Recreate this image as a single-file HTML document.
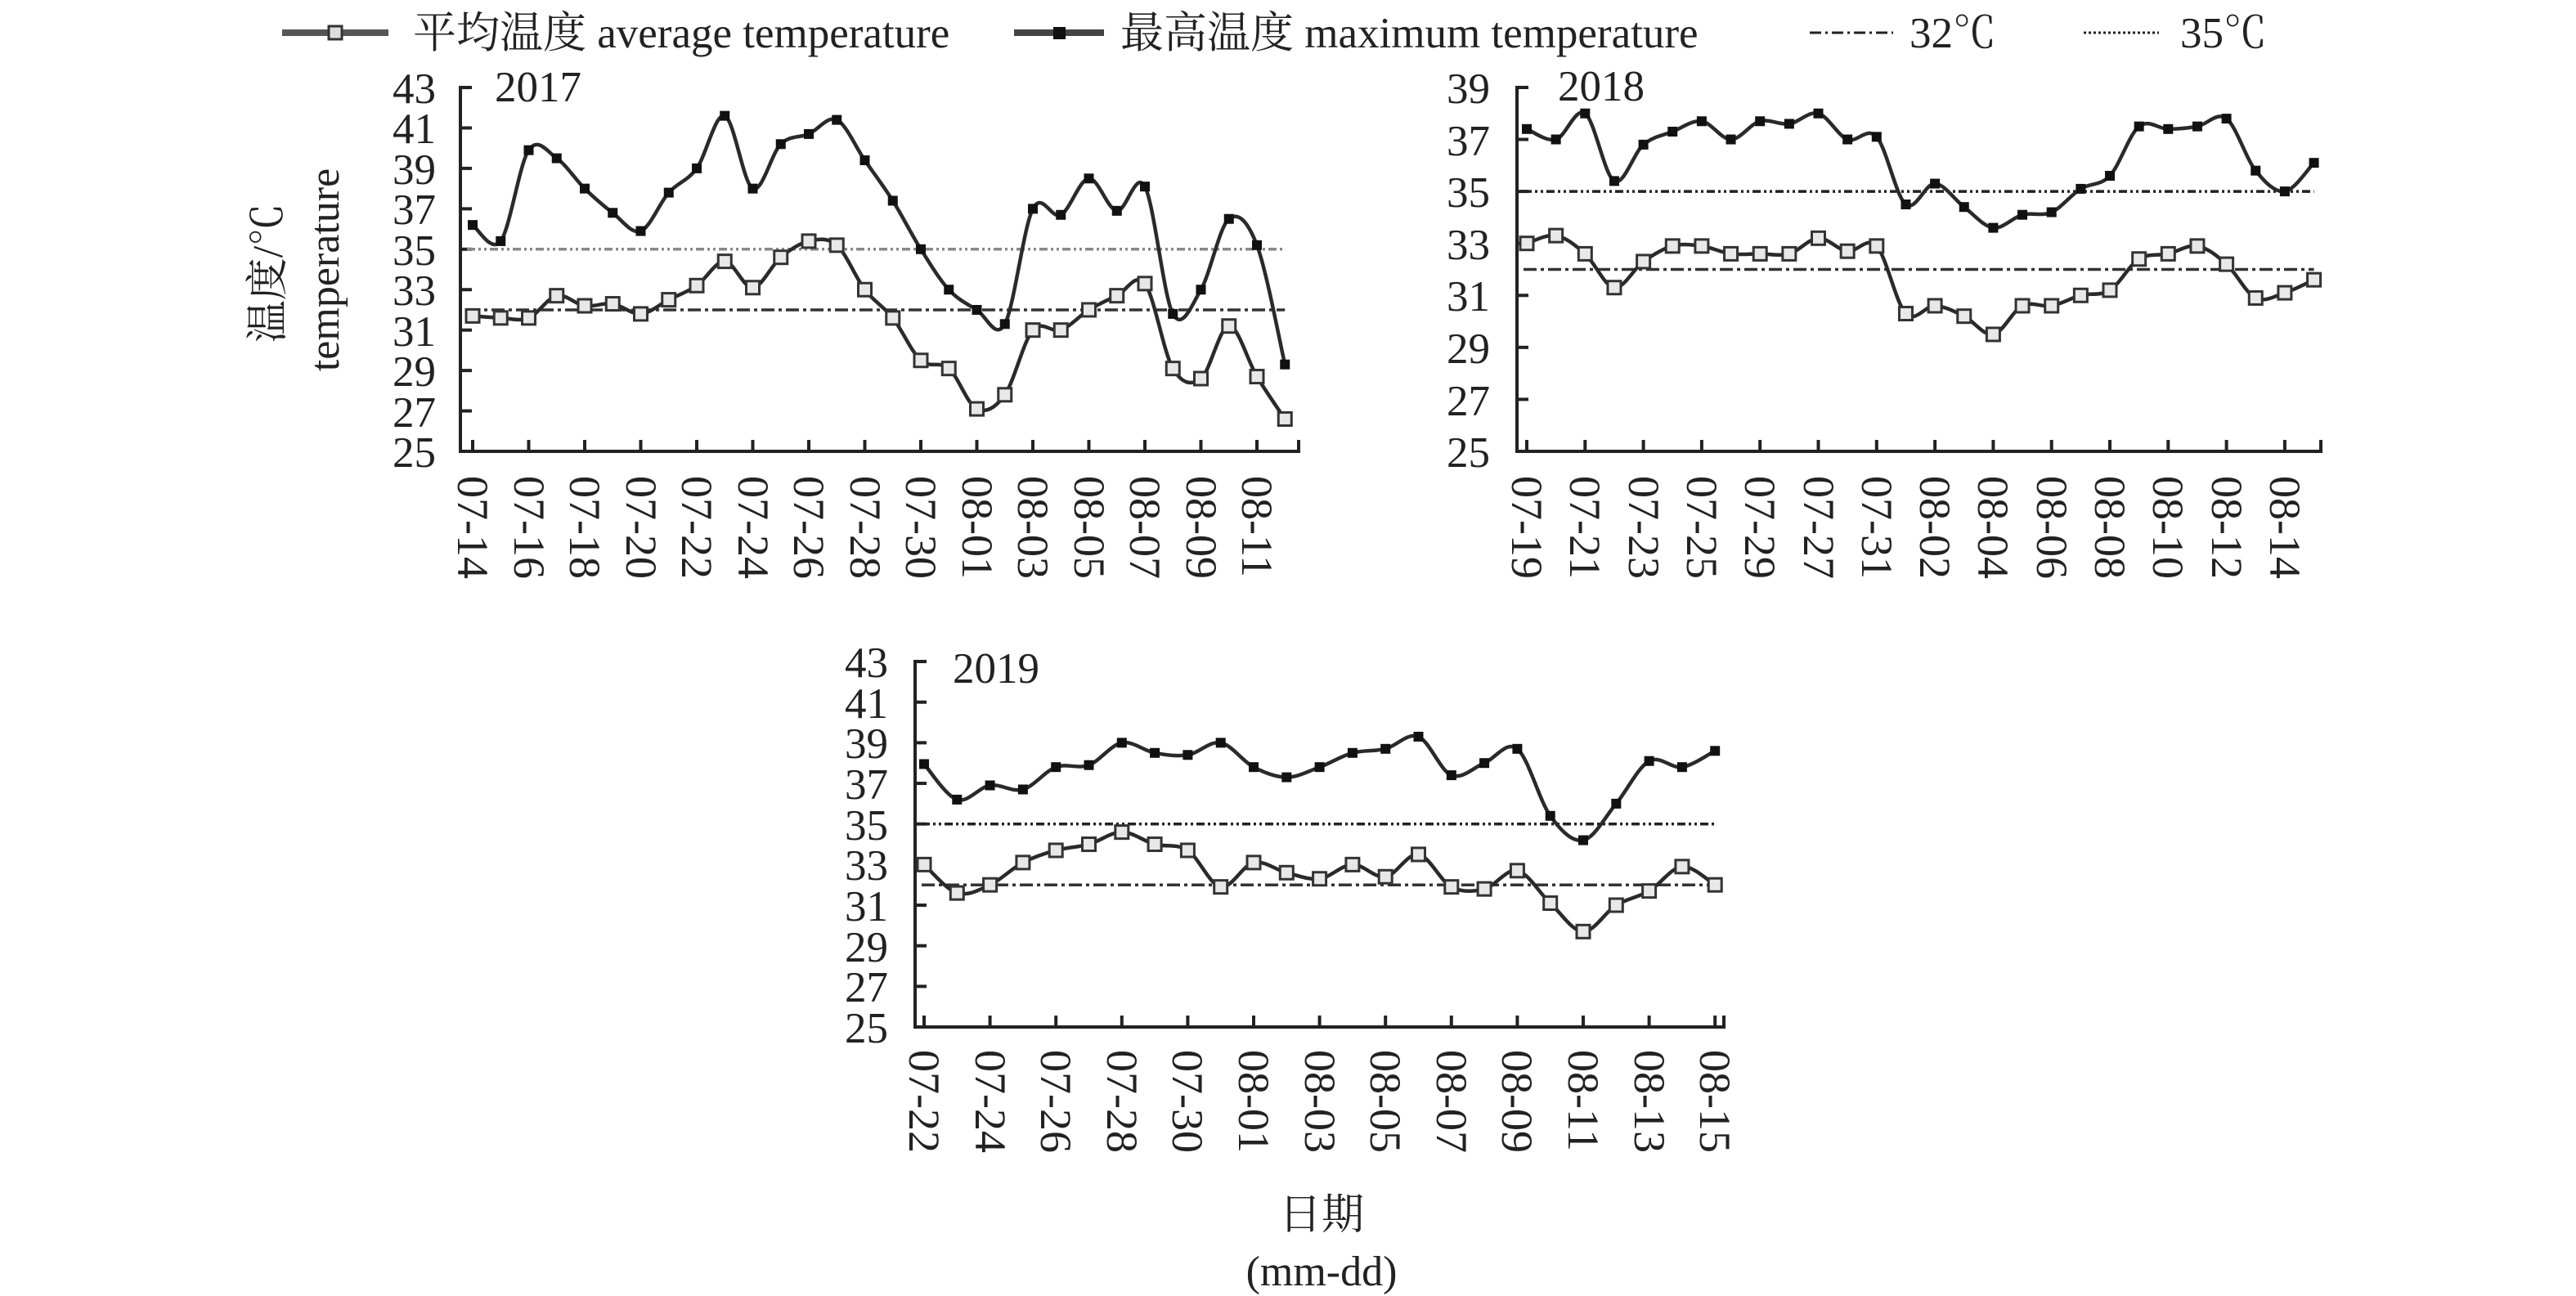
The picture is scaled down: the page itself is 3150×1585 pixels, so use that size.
<!DOCTYPE html>
<html><head><meta charset="utf-8"><style>
html,body{margin:0;padding:0;background:#fff}
svg{display:block}
text{font-family:"Liberation Serif","Noto Serif CJK SC",serif;fill:#222}
</style></head><body>
<svg id="s" width="3150" height="1585" viewBox="0 0 3150 1585" xmlns="http://www.w3.org/2000/svg">
<g stroke-width="8">
<line x1="345" y1="40" x2="475" y2="40" stroke="#555"/>
<rect x="402" y="32" width="16" height="16" fill="#ddd" stroke="#333" stroke-width="3"/>
<line x1="1240" y1="40" x2="1350" y2="40" stroke="#444"/>
<rect x="1288" y="33" width="15" height="15" fill="#111" stroke="none"/>
</g>
<line x1="2213" y1="40" x2="2315" y2="40" stroke="#222" stroke-width="3" stroke-dasharray="14,5,3,5"/>
<line x1="2548" y1="40" x2="2640" y2="40" stroke="#222" stroke-width="3" stroke-dasharray="3,3"/>
<g font-size="53">
<text x="505" y="58">平均温度 average temperature</text>
<text x="1370" y="58">最高温度 maximum temperature</text>
<text x="2335" y="58">32℃</text>
<text x="2666" y="58">35℃</text>
</g>
<g font-size="52" text-anchor="middle">
<text transform="translate(345,334) rotate(-90)">温度/℃</text>
<text transform="translate(414,330) rotate(-90)">temperature</text>
</g>
<g font-size="53">
<text x="605" y="124">2017</text>
<text x="1905" y="123">2018</text>
<text x="1165" y="835">2019</text>
</g>
<g font-size="53" text-anchor="end">
<text x="533" y="571">25</text><text x="533" y="522">27</text><text x="533" y="472">29</text><text x="533" y="423">31</text><text x="533" y="373">33</text><text x="533" y="324">35</text><text x="533" y="274">37</text><text x="533" y="225">39</text><text x="533" y="175">41</text><text x="533" y="126">43</text>
<text x="1822" y="571">25</text><text x="1822" y="508">27</text><text x="1822" y="444">29</text><text x="1822" y="380">31</text><text x="1822" y="317">33</text><text x="1822" y="253">35</text><text x="1822" y="190">37</text><text x="1822" y="126">39</text>
<text x="1086" y="1275">25</text><text x="1086" y="1225">27</text><text x="1086" y="1176">29</text><text x="1086" y="1126">31</text><text x="1086" y="1076">33</text><text x="1086" y="1027">35</text><text x="1086" y="977">37</text><text x="1086" y="927">39</text><text x="1086" y="878">41</text><text x="1086" y="828">43</text>
</g>
<g font-size="54" id="xl">
<text transform="translate(578,582) rotate(90)" dy="18">07-14</text>
<text transform="translate(647,582) rotate(90)" dy="18">07-16</text>
<text transform="translate(715,582) rotate(90)" dy="18">07-18</text>
<text transform="translate(784,582) rotate(90)" dy="18">07-20</text>
<text transform="translate(852,582) rotate(90)" dy="18">07-22</text>
<text transform="translate(921,582) rotate(90)" dy="18">07-24</text>
<text transform="translate(989,582) rotate(90)" dy="18">07-26</text>
<text transform="translate(1058,582) rotate(90)" dy="18">07-28</text>
<text transform="translate(1126,582) rotate(90)" dy="18">07-30</text>
<text transform="translate(1195,582) rotate(90)" dy="18">08-01</text>
<text transform="translate(1263,582) rotate(90)" dy="18">08-03</text>
<text transform="translate(1332,582) rotate(90)" dy="18">08-05</text>
<text transform="translate(1400,582) rotate(90)" dy="18">08-07</text>
<text transform="translate(1469,582) rotate(90)" dy="18">08-09</text>
<text transform="translate(1537,582) rotate(90)" dy="18">08-11</text>

<text transform="translate(1867,582) rotate(90)" dy="18">07-19</text>
<text transform="translate(1938,582) rotate(90)" dy="18">07-21</text>
<text transform="translate(2010,582) rotate(90)" dy="18">07-23</text>
<text transform="translate(2081,582) rotate(90)" dy="18">07-25</text>
<text transform="translate(2152,582) rotate(90)" dy="18">07-29</text>
<text transform="translate(2224,582) rotate(90)" dy="18">07-27</text>
<text transform="translate(2295,582) rotate(90)" dy="18">07-31</text>
<text transform="translate(2366,582) rotate(90)" dy="18">08-02</text>
<text transform="translate(2437,582) rotate(90)" dy="18">08-04</text>
<text transform="translate(2509,582) rotate(90)" dy="18">08-06</text>
<text transform="translate(2580,582) rotate(90)" dy="18">08-08</text>
<text transform="translate(2651,582) rotate(90)" dy="18">08-10</text>
<text transform="translate(2723,582) rotate(90)" dy="18">08-12</text>
<text transform="translate(2794,582) rotate(90)" dy="18">08-14</text>

<text transform="translate(1130,1284) rotate(90)" dy="18">07-22</text>
<text transform="translate(1211,1284) rotate(90)" dy="18">07-24</text>
<text transform="translate(1291,1284) rotate(90)" dy="18">07-26</text>
<text transform="translate(1372,1284) rotate(90)" dy="18">07-28</text>
<text transform="translate(1452,1284) rotate(90)" dy="18">07-30</text>
<text transform="translate(1533,1284) rotate(90)" dy="18">08-01</text>
<text transform="translate(1614,1284) rotate(90)" dy="18">08-03</text>
<text transform="translate(1694,1284) rotate(90)" dy="18">08-05</text>
<text transform="translate(1775,1284) rotate(90)" dy="18">08-07</text>
<text transform="translate(1855,1284) rotate(90)" dy="18">08-09</text>
<text transform="translate(1936,1284) rotate(90)" dy="18">08-11</text>
<text transform="translate(2017,1284) rotate(90)" dy="18">08-13</text>
<text transform="translate(2097,1284) rotate(90)" dy="18">08-15</text>
</g>
<g font-size="52" text-anchor="middle">
<text x="1616" y="1503">日期</text>
<text x="1616" y="1572">(mm-dd)</text>
</g>
<g id="plots"></g>
</svg>
<script>
var NS="http://www.w3.org/2000/svg",G=document.getElementById("plots");
function el(n,a){var e=document.createElementNS(NS,n);for(var k in a)e.setAttribute(k,a[k]);G.appendChild(e);return e;}
function smooth(p){var d="M"+p[0][0]+","+p[0][1];for(var i=0;i<p.length-1;i++){var p0=p[i-1]||p[i],p1=p[i],p2=p[i+1],p3=p[i+2]||p2,t=6;
d+=" C"+(p1[0]+(p2[0]-p0[0])/t)+","+(p1[1]+(p2[1]-p0[1])/t)+" "+(p2[0]-(p3[0]-p1[0])/t)+","+(p2[1]-(p3[1]-p1[1])/t)+" "+p2[0]+","+p2[1];}return d;}
function chart(c){
 var ax=c.ax,yb=c.yb;
 el("path",{d:"M"+(ax+14)+","+c.yt+" H"+ax+" V"+yb+" H"+c.xe+" V"+(yb-14),fill:"none",stroke:"#222","stroke-width":4});
 for(var v=c.tmin+2;v<=c.tmax;v+=2){var y=c.Y(v);el("line",{x1:ax,y1:y,x2:ax+14,y2:y,stroke:"#222","stroke-width":4});}
 for(var i=0;i<c.n;i+=2){var x=c.x0+i*c.dx;el("line",{x1:x,y1:yb,x2:x,y2:yb-14,stroke:"#222","stroke-width":4});}
 var xl=c.x0+(c.n-1)*c.dx;
 el("line",{x1:ax+8,y1:c.Y(35),x2:xl,y2:c.Y(35),stroke:c.c35,"stroke-width":3.5,"stroke-dasharray":"10,4,3,4,3,4"});
 el("line",{x1:ax+8,y1:c.Y(32),x2:xl,y2:c.Y(32),stroke:"#333","stroke-width":3.5,"stroke-dasharray":"16,5,4,5"});
 [c.mx,c.av].forEach(function(d,k){var p=d.map(function(v,i){return[c.x0+i*c.dx,c.Y(v)]});
  el("path",{d:smooth(p),fill:"none",stroke:"#2a2a2a","stroke-width":4.5});
  p.forEach(function(q){ if(k==0) el("rect",{x:q[0]-6,y:q[1]-6,width:12,height:12,fill:"#111"});
   else el("rect",{x:q[0]-8,y:q[1]-8,width:16,height:16,fill:"#e8e8e8",stroke:"#333","stroke-width":3});});
 });
}
chart({ax:563,yt:107,yb:552,xe:1588,x0:578,dx:34.25,n:30,tmin:25,tmax:43,c35:"#888",Y:function(t){return 552-(t-25)*24.72},
 mx:[36.2,35.4,39.9,39.5,38.0,36.8,35.9,37.8,39.0,41.6,38.0,40.2,40.7,41.4,39.4,37.4,35.0,33.0,32.0,31.3,37.0,36.7,38.5,36.9,38.1,31.8,33.0,36.5,35.2,29.3],
 av:[31.7,31.6,31.6,32.7,32.2,32.3,31.8,32.5,33.2,34.4,33.1,34.6,35.4,35.2,33.0,31.6,29.5,29.1,27.1,27.8,31.0,31.0,32.0,32.7,33.3,29.1,28.6,31.2,28.7,26.6]});
chart({ax:1855,yt:107,yb:552,xe:2838,x0:1867,dx:35.65,n:28,tmin:25,tmax:39,c35:"#222",Y:function(t){return 552-(t-25)*31.79},
 mx:[37.4,37.0,38.0,35.4,36.8,37.3,37.7,37.0,37.7,37.6,38.0,37.0,37.1,34.5,35.3,34.4,33.6,34.1,34.2,35.1,35.6,37.5,37.4,37.5,37.8,35.8,35.0,36.1],
 av:[33.0,33.3,32.6,31.3,32.3,32.9,32.9,32.6,32.6,32.6,33.2,32.7,32.9,30.3,30.6,30.2,29.5,30.6,30.6,31.0,31.2,32.4,32.6,32.9,32.2,30.9,31.1,31.6]});
chart({ax:1119,yt:809,yb:1256,xe:2108,x0:1130,dx:40.3,n:25,tmin:25,tmax:43,c35:"#222",Y:function(t){return 1256-(t-25)*24.83},
 mx:[37.95,36.2,36.9,36.7,37.8,37.9,39.0,38.5,38.4,39.0,37.8,37.3,37.8,38.5,38.7,39.3,37.4,38.0,38.7,35.4,34.2,36.0,38.1,37.8,38.6],
 av:[33.0,31.6,32.0,33.1,33.7,34.0,34.6,34.0,33.7,31.9,33.1,32.6,32.3,33.0,32.4,33.5,31.9,31.8,32.7,31.1,29.7,31.0,31.7,32.9,32.0]});
</script>
</body></html>
